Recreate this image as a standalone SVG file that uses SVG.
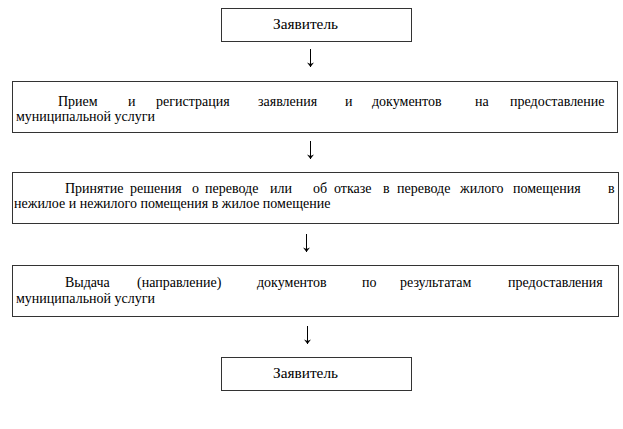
<svg xmlns="http://www.w3.org/2000/svg" width="623" height="429" viewBox="0 0 623 429">
<defs>
<marker id="ah" viewBox="0 0 8 8" refX="7.5" refY="4" markerWidth="8" markerHeight="8" markerUnits="userSpaceOnUse" orient="auto">
<path d="M3,0.5 L7.5,4 L3,7.5 L4.5,4 Z" fill="#000"/>
</marker>
</defs>
<rect width="623" height="429" fill="#fff"/>
<g id="n1">
<rect x="221.5" y="8.5" width="190" height="33" fill="#fff" stroke="#333"/>
<text font-family="Times New Roman, Liberation Serif, serif" font-size="14" x="273" y="29" textLength="65" lengthAdjust="spacingAndGlyphs">Заявитель</text>
</g>
<g id="n2">
<rect x="12.5" y="81.5" width="605" height="51" fill="#fff" stroke="#333"/>
<text font-family="Times New Roman, Liberation Serif, serif" font-size="14" y="106"><tspan x="58">Прием</tspan><tspan x="128">и</tspan><tspan x="156">регистрация</tspan><tspan x="258">заявления</tspan><tspan x="345">и</tspan><tspan x="372">документов</tspan><tspan x="475">на</tspan><tspan x="510">предоставление</tspan></text>
<text font-family="Times New Roman, Liberation Serif, serif" font-size="14" x="16" y="121">муниципальной услуги</text>
</g>
<g id="n3">
<rect x="12.5" y="172.5" width="606" height="51" fill="#fff" stroke="#333"/>
<text font-family="Times New Roman, Liberation Serif, serif" font-size="14" y="193"><tspan x="65">Принятие</tspan><tspan x="130">решения</tspan><tspan x="192">о</tspan><tspan x="205">переводе</tspan><tspan x="270">или</tspan><tspan x="313">об</tspan><tspan x="334">отказе</tspan><tspan x="383">в</tspan><tspan x="397">переводе</tspan><tspan x="460">жилого</tspan><tspan x="513">помещения</tspan><tspan x="608">в</tspan></text>
<text font-family="Times New Roman, Liberation Serif, serif" font-size="14" x="14" y="208">нежилое и нежилого помещения в жилое помещение</text>
</g>
<g id="n4">
<rect x="12.5" y="265.5" width="606" height="51" fill="#fff" stroke="#333"/>
<text font-family="Times New Roman, Liberation Serif, serif" font-size="14" y="287"><tspan x="65">Выдача</tspan><tspan x="137">(направление)</tspan><tspan x="257">документов</tspan><tspan x="362">по</tspan><tspan x="400">результатам</tspan><tspan x="508">предоставления</tspan></text>
<text font-family="Times New Roman, Liberation Serif, serif" font-size="14" x="16" y="303">муниципальной услуги</text>
</g>
<g id="n5">
<rect x="221.5" y="357.5" width="190" height="33" fill="#fff" stroke="#333"/>
<text font-family="Times New Roman, Liberation Serif, serif" font-size="14" x="273" y="378" textLength="65" lengthAdjust="spacingAndGlyphs">Заявитель</text>
</g>
<g id="connectors" stroke="#000" stroke-width="1" fill="none">
<line x1="310.5" y1="49" x2="310.5" y2="67" marker-end="url(#ah)"/>
<line x1="310.5" y1="141" x2="310.5" y2="159" marker-end="url(#ah)"/>
<line x1="306.5" y1="234" x2="306.5" y2="252" marker-end="url(#ah)"/>
<line x1="307.5" y1="326" x2="307.5" y2="344" marker-end="url(#ah)"/>
</g>
</svg>
